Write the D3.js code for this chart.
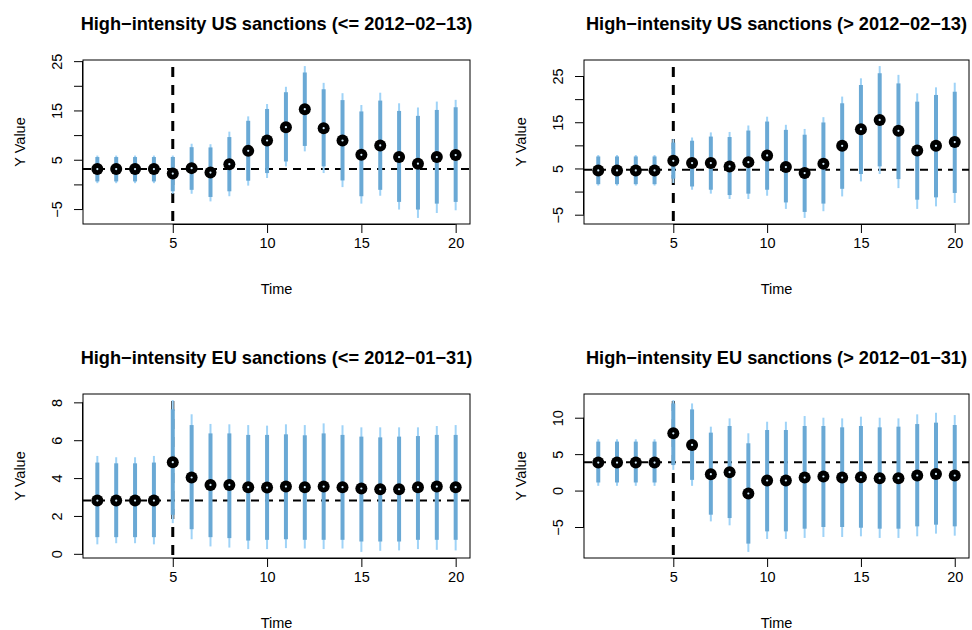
<!DOCTYPE html>
<html>
<head>
<meta charset="utf-8">
<script src="https://cdn.jsdelivr.net/npm/d3@7"></script>
<style>
  body { margin:0; background:#fff; }
  svg text { font-family:"Liberation Sans", Arial, sans-serif; fill:#000; }
</style>
</head>
<body>
<div id="chart"></div>
<script>
var w=972, h=630;

// time points (same for every panel)
var times=[1,2,3,4,5,6,7,8,9,10,11,12,13,14,15,16,17,18,19,20];
var treatTime=5;

// panel titles
var titles=["High\u2212intensity US sanctions (<= 2012\u221202\u221213)",
            "High\u2212intensity US sanctions (> 2012\u221202\u221213)",
            "High\u2212intensity EU sanctions (<= 2012\u221201\u221231)",
            "High\u2212intensity EU sanctions (> 2012\u221201\u221231)"];

// pre-period reference level (horizontal dashed line)
var baselines=[3.1, 4.7, 2.81, 3.9];

// y tick values and which of them carry labels
var yTicks=[[-5,0,5,10,15,20,25],[-5,0,5,10,15,20,25],[0,2,4,6,8],[-5,0,5,10]];
var yTickLabels=[[-5,5,15,25],[-5,5,15,25],[0,2,4,6,8],[-5,0,5,10]];
var xTicks=[5,10,15,20];

// --- US, <= 2012-02-13 ---
var usPre_est     =[3.1,3.1,3.1,3.1,2.2,3.3,2.4,4.1,6.8,8.9,11.6,15.25,11.4,8.9,6.0,7.9,5.55,4.2,5.55,5.95];
var usPre_innerLo =[0.6,0.6,0.6,0.6,-1.4,-1.1,-2.55,-1.4,0.75,2.3,4.65,7.8,3.65,0.8,-2.4,-1.1,-3.55,-5.1,-3.9,-3.55];
var usPre_innerHi =[5.55,5.55,5.55,5.55,5.55,7.55,7.5,9.6,12.9,15.3,18.7,22.7,19.3,17.1,14.8,17.0,14.9,13.9,15.1,15.65];
var usPre_outerLo =[0.25,0.25,0.25,0.25,-1.9,-1.9,-3.45,-2.4,-0.25,1.3,3.65,6.7,2.3,-0.55,-3.9,-2.3,-5.1,-6.8,-5.8,-5.25];
var usPre_outerHi =[5.85,5.85,5.85,5.85,5.85,8.25,8.15,10.7,13.8,16.3,19.8,24.0,20.6,18.5,16.1,18.6,16.45,15.6,16.8,17.15];

// --- US, > 2012-02-13 ---
var usPost_est    =[4.57,4.57,4.57,4.57,6.65,6.16,6.16,5.44,6.37,7.81,5.3,4.0,6.0,9.9,13.5,15.5,13.14,8.9,9.9,10.7];
var usPost_innerLo=[1.6,1.6,1.6,1.6,2.8,1.1,0.4,-0.75,-0.45,0.4,-2.35,-4.4,-2.6,0.6,3.8,5.45,2.7,-1.75,-1.25,-0.3];
var usPost_innerHi=[7.6,7.6,7.6,7.6,10.6,11.0,11.9,11.8,13.2,15.15,13.35,12.3,14.95,19.1,23.05,25.6,23.4,19.45,20.9,21.6];
var usPost_outerLo=[1.3,1.3,1.3,1.3,1.85,0.4,-0.45,-1.6,-1.6,-0.9,-3.75,-5.7,-4.25,-1.05,2.2,3.8,0.75,-3.75,-3.2,-2.45];
var usPost_outerHi=[7.9,7.9,7.9,7.9,11.35,11.7,12.8,12.9,14.3,16.2,14.45,13.55,16.1,20.55,24.5,27.15,25.25,21.25,22.55,23.55];

// --- EU, <= 2012-01-31 ---
var euPre_est     =[2.81,2.81,2.81,2.81,4.84,4.03,3.64,3.64,3.52,3.5,3.55,3.52,3.55,3.52,3.45,3.41,3.41,3.52,3.55,3.52];
var euPre_innerLo =[0.88,0.88,0.88,0.88,2.06,1.3,0.88,0.83,0.7,0.74,0.77,0.74,0.74,0.74,0.65,0.65,0.65,0.74,0.74,0.74];
var euPre_innerHi =[4.82,4.78,4.78,4.82,7.63,6.8,6.36,6.36,6.28,6.28,6.31,6.26,6.36,6.28,6.19,6.15,6.19,6.22,6.28,6.28];
var euPre_outerLo =[0.5,0.56,0.56,0.5,1.62,0.77,0.39,0.33,0.25,0.25,0.3,0.28,0.25,0.28,0.1,0.16,0.18,0.25,0.21,0.18];
var euPre_outerHi =[5.17,5.1,5.1,5.17,8.12,7.37,6.86,6.84,6.8,6.77,6.84,6.8,6.89,6.79,6.68,6.68,6.68,6.68,6.75,6.8];

// --- EU, > 2012-01-31 ---
var euPost_est    =[3.84,3.84,3.84,3.84,7.86,6.26,2.25,2.52,-0.4,1.38,1.38,1.79,1.93,1.79,1.84,1.7,1.7,2.07,2.29,2.07];
var euPost_innerLo=[1.11,1.11,1.11,1.11,3.5,1.47,-3.31,-3.77,-7.28,-5.6,-5.6,-5.23,-5.0,-5.0,-5.1,-5.23,-5.23,-4.91,-4.68,-4.91];
var euPost_innerHi=[6.72,6.72,6.72,6.72,11.96,11.14,7.95,8.86,6.49,8.31,8.31,8.86,8.86,8.68,8.86,8.68,8.77,9.13,9.32,9.0];
var euPost_outerLo=[0.65,0.65,0.65,0.65,2.84,0.65,-4.23,-4.77,-8.42,-6.64,-6.64,-6.5,-6.37,-6.37,-6.28,-6.5,-6.5,-6.28,-5.91,-6.19];
var euPost_outerHi=[7.04,7.04,7.04,7.04,12.42,11.96,8.77,9.91,7.86,9.45,9.45,10.23,10.0,9.91,10.14,10.0,9.91,10.46,10.68,10.36];

var panelData=[
  {est:usPre_est, iLo:usPre_innerLo, iHi:usPre_innerHi, oLo:usPre_outerLo, oHi:usPre_outerHi},
  {est:usPost_est, iLo:usPost_innerLo, iHi:usPost_innerHi, oLo:usPost_outerLo, oHi:usPost_outerHi},
  {est:euPre_est, iLo:euPre_innerLo, iHi:euPre_innerHi, oLo:euPre_outerLo, oHi:euPre_outerHi},
  {est:euPost_est, iLo:euPost_innerLo, iHi:euPost_innerHi, oLo:euPost_outerLo, oHi:euPost_outerHi}
];

// plot regions for the 2x2 layout
var boxes=[{l:83,r:470,t:60,b:224},{l:584,r:969,t:60,b:224},
           {l:83,r:470,t:394,b:558},{l:584,r:969,t:394,b:558}];

var svg=d3.select("#chart").append("svg")
          .attr("width",w)
          .attr("height",h);

//R-style padded domain (4% each side)
function padded(lo,hi) {
  var r=hi-lo;
  return [lo-0.04*r, hi+0.04*r];
}

panelData.forEach(function(pd,i) {
  var box=boxes[i];
  var g=svg.append("g").attr("class","panel");

  var rows=times.map(function(t,j) {
    return {t:t, est:pd.est[j], iLo:pd.iLo[j], iHi:pd.iHi[j], oLo:pd.oLo[j], oHi:pd.oHi[j]};
  });

  var xScale=d3.scaleLinear()
               .domain(padded(d3.min(times),d3.max(times)))
               .range([box.l,box.r]);
  var yScale=d3.scaleLinear()
               .domain(padded(d3.min(pd.oLo),d3.max(pd.oHi)))
               .range([box.b,box.t]);

  //reference lines
  g.append("line")
   .attr("x1",box.l).attr("x2",box.r)
   .attr("y1",yScale(baselines[i])).attr("y2",yScale(baselines[i]))
   .attr("stroke","#000").attr("stroke-width",2)
   .attr("stroke-dasharray","8,6");
  g.append("line")
   .attr("x1",xScale(treatTime)).attr("x2",xScale(treatTime))
   .attr("y1",box.t+7).attr("y2",box.b)
   .attr("stroke","#000").attr("stroke-width",3)
   .attr("stroke-dasharray","10,8");

  //outer intervals
  g.selectAll("line.outer")
   .data(rows)
   .enter()
   .append("line")
   .attr("class","outer")
   .attr("x1",function(d) {return xScale(d.t);})
   .attr("x2",function(d) {return xScale(d.t);})
   .attr("y1",function(d) {return yScale(d.oLo);})
   .attr("y2",function(d) {return yScale(d.oHi);})
   .attr("stroke","#9fd3f7")
   .attr("stroke-width",2);

  //inner intervals
  g.selectAll("line.inner")
   .data(rows)
   .enter()
   .append("line")
   .attr("class","inner")
   .attr("x1",function(d) {return xScale(d.t);})
   .attr("x2",function(d) {return xScale(d.t);})
   .attr("y1",function(d) {return yScale(d.iLo);})
   .attr("y2",function(d) {return yScale(d.iHi);})
   .attr("stroke","#6aa9d5")
   .attr("stroke-width",4);

  //point estimates
  g.selectAll("circle.est")
   .data(rows)
   .enter()
   .append("circle")
   .attr("class","est")
   .attr("cx",function(d) {return xScale(d.t);})
   .attr("cy",function(d) {return yScale(d.est);})
   .attr("r",6)
   .attr("fill","#000");
  g.selectAll("circle.dot")
   .data(rows)
   .enter()
   .append("circle")
   .attr("class","dot")
   .attr("cx",function(d) {return xScale(d.t);})
   .attr("cy",function(d) {return yScale(d.est);})
   .attr("r",1.1)
   .attr("fill","#d6eefc");

  //box
  g.append("rect")
   .attr("x",box.l).attr("y",box.t)
   .attr("width",box.r-box.l).attr("height",box.b-box.t)
   .attr("fill","none").attr("stroke","#000").attr("stroke-width",1);

  //x axis
  var xAxis=d3.axisBottom(xScale).tickValues(xTicks).tickSize(9).tickPadding(5);
  var xg=g.append("g")
          .attr("transform","translate(0,"+box.b+")")
          .call(xAxis);
  xg.select(".domain").attr("d","M"+xScale(xTicks[0])+",0.5H"+xScale(xTicks[xTicks.length-1]));
  xg.selectAll("text").attr("font-size",14.5).attr("font-family","Liberation Sans, Arial, sans-serif");

  //y axis
  var labelled=yTickLabels[i];
  var yAxis=d3.axisLeft(yScale).tickValues(yTicks[i]).tickSize(9).tickPadding(0)
              .tickFormat(function(d) {return labelled.indexOf(d)>=0 ? String(d).replace("-","\u2212") : "";});
  var yg=g.append("g")
          .attr("transform","translate("+box.l+",0)")
          .call(yAxis);
  var yt=yTicks[i];
  yg.select(".domain").attr("d","M-0.5,"+yScale(yt[0])+"V"+yScale(yt[yt.length-1]));
  yg.selectAll("text")
    .attr("font-size",14.5)
    .attr("font-family","Liberation Sans, Arial, sans-serif")
    .attr("x",null).attr("dy",null)
    .attr("text-anchor","middle")
    .attr("transform","translate(-21,0) rotate(-90)")
    .attr("y",0);

  //title
  g.append("text")
   .attr("x",(box.l+box.r)/2)
   .attr("y",box.t-36)
   .attr("text-anchor","middle")
   .attr("dominant-baseline","central")
   .attr("font-size",18.2)
   .attr("font-weight","bold")
   .text(titles[i]);

  //axis titles
  g.append("text")
   .attr("x",(box.l+box.r)/2)
   .attr("y",box.b+65)
   .attr("text-anchor","middle")
   .attr("dominant-baseline","central")
   .attr("font-size",14.5)
   .text("Time");
  g.append("text")
   .attr("transform","translate("+(box.l-63)+","+((box.t+box.b)/2)+")rotate(-90)")
   .attr("text-anchor","middle")
   .attr("dominant-baseline","central")
   .attr("font-size",14.5)
   .text("Y Value");
});
</script>
</body>
</html>
